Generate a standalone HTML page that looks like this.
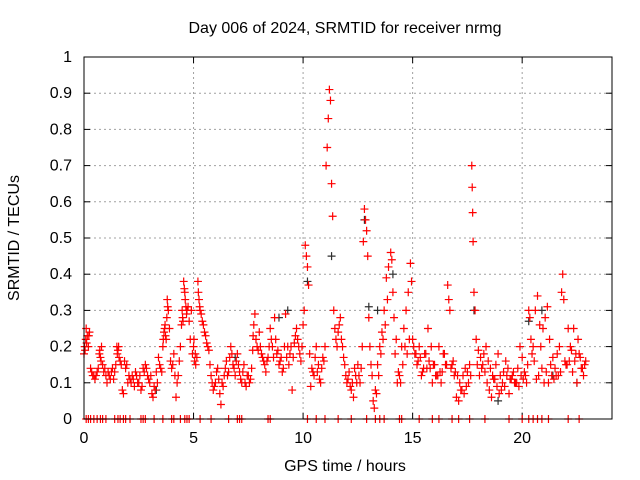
<!DOCTYPE html>
<html><head><meta charset="utf-8"><style>
body{margin:0;background:#fff}
svg{display:block;font-family:"Liberation Sans",sans-serif;font-size:16px}
</style></head><body>
<svg id="chart" width="640" height="480" viewBox="0 0 640 480">
<text x="345" y="33" text-anchor="middle">Day 006 of 2024, SRMTID for receiver nrmg</text>
<text x="345" y="471" text-anchor="middle">GPS time / hours</text>
<text transform="translate(19,238) rotate(-90)" text-anchor="middle">SRMTID / TECUs</text>
<g id="grid"></g>
<g id="axes"></g>
<g id="marks"></g>
<rect x="84" y="57" width="528" height="362" fill="none" stroke="#000"/>
</svg>
<script>
const xTicks=[0,5,10,15,20];
const yTicks=[0,0.1,0.2,0.3,0.4,0.5,0.6,0.7,0.8,0.9,1];
const yTickLabels=["0","0.1","0.2","0.3","0.4","0.5","0.6","0.7","0.8","0.9","1"];
const redTimes=[0.0,0.05,0.08,0.1,0.15,0.2,0.25,0.3,0.4,0.5,0.6,0.7,0.75,0.8,0.85,0.9,1.0,1.05,1.1,1.2,1.3,1.4,1.5,1.55,1.6,1.7,1.75,1.8,1.85,1.9,2.0,2.1,2.2,2.3,2.4,2.5,2.6,2.7,2.8,2.9,3.0,3.1,3.15,3.2,3.3,3.4,3.5,3.6,3.65,3.7,3.75,3.8,3.85,3.9,3.95,4.0,4.1,4.2,4.25,4.3,4.4,4.45,4.5,4.55,4.6,4.65,4.7,4.8,4.9,4.95,5.0,5.05,5.1,5.2,5.25,5.3,5.4,5.5,5.6,5.7,5.8,5.9,6.0,6.1,6.2,6.25,6.3,6.4,6.5,6.6,6.7,6.8,6.9,7.0,7.1,7.2,7.3,7.4,7.5,7.6,7.7,7.75,7.8,7.9,8.0,8.1,8.2,8.3,8.4,8.5,8.6,8.7,8.8,8.9,9.0,9.1,9.2,9.3,9.4,9.5,9.6,9.7,9.8,9.9,10.0,10.05,10.1,10.15,10.2,10.25,10.3,10.35,10.4,10.5,10.6,10.7,10.8,10.9,11.0,11.05,11.1,11.15,11.2,11.25,11.3,11.35,11.4,11.5,11.6,11.7,11.8,11.9,12.0,12.1,12.2,12.3,12.4,12.5,12.6,12.7,12.75,12.8,12.85,12.9,12.95,13.0,13.1,13.2,13.25,13.3,13.4,13.5,13.6,13.7,13.8,13.9,14.0,14.05,14.1,14.2,14.3,14.4,14.5,14.6,14.7,14.8,14.9,14.95,15.0,15.1,15.2,15.3,15.4,15.5,15.6,15.7,15.8,15.9,16.0,16.1,16.2,16.3,16.4,16.5,16.6,16.65,16.7,16.8,16.9,17.0,17.1,17.2,17.3,17.4,17.5,17.6,17.7,17.72,17.74,17.76,17.8,17.85,17.9,18.0,18.1,18.2,18.3,18.4,18.5,18.6,18.7,18.8,18.9,19.0,19.1,19.2,19.3,19.4,19.5,19.6,19.7,19.8,19.9,20.0,20.1,20.2,20.3,20.35,20.4,20.5,20.6,20.7,20.8,20.9,21.0,21.1,21.2,21.3,21.4,21.5,21.6,21.7,21.8,21.85,21.9,22.0,22.1,22.2,22.3,22.4,22.5,22.6,22.7,22.8,22.9];
const redValues=[0.18,0.19,0.22,0.25,0.23,0.2,0.24,0.14,0.12,0.11,0.13,0.18,0.17,0.2,0.15,0.13,0.12,0.1,0.13,0.11,0.14,0.13,0.2,0.19,0.17,0.15,0.08,0.07,0.16,0.14,0.1,0.11,0.12,0.09,0.12,0.1,0.08,0.14,0.15,0.12,0.1,0.07,0.06,0.09,0.13,0.17,0.14,0.2,0.24,0.26,0.22,0.33,0.3,0.25,0.16,0.14,0.18,0.06,0.1,0.12,0.2,0.26,0.28,0.38,0.35,0.31,0.3,0.27,0.3,0.18,0.2,0.16,0.15,0.38,0.33,0.3,0.27,0.24,0.21,0.19,0.12,0.08,0.1,0.14,0.07,0.04,0.1,0.12,0.16,0.13,0.2,0.15,0.12,0.18,0.13,0.1,0.15,0.09,0.12,0.11,0.19,0.26,0.29,0.2,0.24,0.18,0.16,0.13,0.17,0.25,0.2,0.28,0.18,0.15,0.17,0.14,0.29,0.2,0.18,0.08,0.21,0.25,0.2,0.16,0.26,0.3,0.48,0.45,0.42,0.37,0.18,0.09,0.14,0.12,0.2,0.15,0.1,0.17,0.2,0.7,0.75,0.83,0.91,0.88,0.65,0.56,0.3,0.22,0.24,0.28,0.2,0.15,0.1,0.13,0.08,0.06,0.12,0.15,0.1,0.2,0.49,0.58,0.55,0.52,0.45,0.28,0.15,0.05,0.03,0.08,0.15,0.2,0.24,0.3,0.39,0.42,0.46,0.44,0.35,0.18,0.1,0.12,0.2,0.25,0.3,0.35,0.43,0.38,0.22,0.18,0.15,0.2,0.12,0.14,0.18,0.25,0.14,0.1,0.15,0.12,0.2,0.1,0.18,0.15,0.37,0.33,0.3,0.15,0.12,0.06,0.05,0.08,0.12,0.14,0.13,0.15,0.7,0.64,0.57,0.49,0.35,0.3,0.22,0.19,0.17,0.15,0.13,0.1,0.08,0.06,0.11,0.15,0.18,0.12,0.1,0.09,0.12,0.07,0.11,0.13,0.1,0.14,0.2,0.17,0.13,0.1,0.3,0.28,0.22,0.2,0.3,0.34,0.26,0.14,0.1,0.13,0.1,0.15,0.17,0.14,0.18,0.2,0.35,0.4,0.33,0.15,0.25,0.2,0.13,0.16,0.1,0.18,0.14,0.12,0.16];
const redTimes2=[0.03,0.12,0.22,0.35,0.45,0.55,0.65,0.72,0.78,0.95,1.15,1.25,1.35,1.45,1.52,1.58,1.65,1.95,2.05,2.15,2.25,2.35,2.45,2.55,2.65,2.75,2.85,2.95,3.05,3.25,3.35,3.45,3.55,3.62,3.68,3.72,3.78,3.82,4.05,4.15,4.35,4.48,4.52,4.58,4.62,4.68,4.75,4.85,5.02,5.08,5.15,5.22,5.28,5.35,5.45,5.55,5.65,5.75,5.85,5.95,6.05,6.15,6.35,6.45,6.55,6.65,6.75,6.85,6.95,7.05,7.15,7.25,7.35,7.45,7.55,7.65,7.72,7.85,7.95,8.05,8.15,8.25,8.35,8.45,8.55,8.65,8.75,8.85,8.95,9.05,9.15,9.25,9.35,9.45,9.55,9.65,9.75,9.85,9.95,10.45,10.55,10.65,10.75,10.85,10.95,11.45,11.55,11.65,11.75,11.85,11.95,12.05,12.15,12.25,12.35,12.45,12.55,12.65,13.05,13.15,13.35,13.45,13.55,13.65,13.75,13.85,14.15,14.25,14.35,14.45,14.55,14.65,14.75,14.85,15.05,15.15,15.25,15.35,15.45,15.55,15.65,15.75,15.85,15.95,16.05,16.15,16.25,16.35,16.45,16.55,16.75,16.85,16.95,17.05,17.15,17.25,17.35,17.45,17.55,17.65,17.95,18.05,18.15,18.25,18.35,18.45,18.55,18.65,18.75,18.85,18.95,19.05,19.15,19.25,19.35,19.45,19.55,19.65,19.75,19.85,19.95,20.05,20.15,20.25,20.45,20.55,20.65,20.75,20.85,20.95,21.05,21.15,21.25,21.35,21.45,21.55,21.65,21.75,21.95,22.05,22.15,22.25,22.35,22.45,22.55,22.65,22.75,22.85];
const redValues2=[0.2,0.21,0.23,0.13,0.12,0.12,0.14,0.19,0.16,0.14,0.12,0.13,0.11,0.15,0.18,0.2,0.16,0.15,0.12,0.1,0.11,0.13,0.1,0.12,0.09,0.13,0.14,0.11,0.12,0.08,0.1,0.15,0.13,0.22,0.25,0.23,0.28,0.31,0.15,0.12,0.16,0.3,0.27,0.36,0.33,0.29,0.31,0.22,0.22,0.18,0.17,0.35,0.31,0.29,0.26,0.23,0.2,0.15,0.1,0.09,0.13,0.11,0.09,0.14,0.12,0.17,0.18,0.14,0.16,0.15,0.11,0.13,0.1,0.12,0.1,0.14,0.23,0.22,0.19,0.2,0.17,0.15,0.16,0.2,0.22,0.17,0.22,0.19,0.16,0.13,0.2,0.17,0.15,0.2,0.17,0.23,0.22,0.18,0.2,0.13,0.17,0.13,0.11,0.14,0.16,0.25,0.2,0.26,0.22,0.17,0.12,0.11,0.09,0.1,0.14,0.1,0.12,0.14,0.2,0.12,0.07,0.12,0.18,0.22,0.26,0.33,0.28,0.22,0.13,0.1,0.15,0.2,0.18,0.22,0.2,0.18,0.16,0.17,0.13,0.18,0.14,0.16,0.2,0.15,0.12,0.12,0.13,0.13,0.18,0.15,0.14,0.16,0.13,0.12,0.1,0.08,0.07,0.09,0.1,0.12,0.15,0.12,0.14,0.18,0.2,0.16,0.14,0.12,0.11,0.09,0.07,0.08,0.13,0.16,0.14,0.11,0.12,0.1,0.1,0.09,0.12,0.11,0.12,0.15,0.18,0.16,0.11,0.12,0.2,0.25,0.28,0.31,0.22,0.12,0.11,0.12,0.12,0.13,0.16,0.15,0.16,0.19,0.25,0.18,0.22,0.17,0.14,0.15,0.12,0.15,0.13,0.13,0.15];
const blackTimes=[3.3,6.9,8.9,9.3,10.2,11.3,12.8,13.0,13.4,14.1,17.8,18.9,20.3,20.9,21.4,22.5];
const blackValues=[0.08,0.17,0.28,0.3,0.38,0.45,0.55,0.31,0.3,0.4,0.3,0.05,0.27,0.3,0.12,0.1];
const zeroTimes=[0.1,0.2,0.3,0.45,0.6,0.75,0.85,1.0,1.4,1.55,1.65,1.8,1.9,2.1,2.6,2.7,2.8,3.2,3.6,4.0,4.1,4.4,4.6,4.7,4.8,5.3,5.8,6.6,7.0,7.1,7.2,8.4,8.5,10.2,10.6,11.0,11.6,12.2,12.9,13.3,13.5,13.7,14.4,14.5,15.3,15.9,16.2,16.8,17.1,17.6,18.3,19.4,20.0,20.3,20.5,20.7,20.9,21.2,22.1,22.6];
const X0=84,X1=612,XMAX=24.1,Y0=419,Y1=57;
const xs=v=>X0+v/XMAX*(X1-X0);
const ys=v=>Y0-v*(Y0-Y1);
const NS="http://www.w3.org/2000/svg";
const grid=document.getElementById('grid'),axes=document.getElementById('axes'),marks=document.getElementById('marks');
function mk(tag,attrs,parent){const e=document.createElementNS(NS,tag);for(const k in attrs)e.setAttribute(k,attrs[k]);parent.appendChild(e);return e;}
yTicks.forEach((t,i)=>{
  const y=ys(t);
  if(i>0&&i<yTicks.length-1){const g=mk('line',{x1:X0,x2:X1,y1:y,y2:y,stroke:'#a0a0a0','stroke-dasharray':'2,3'},grid);
  
  }
  const tl=mk('text',{x:X0-12,y:y+5,'text-anchor':'end'},axes);tl.textContent=yTickLabels[i];
  
  
  mk('line',{x1:X0,x2:X0+6,y1:y,y2:y,stroke:'#000'},axes);
  mk('line',{x1:X1,x2:X1-6,y1:y,y2:y,stroke:'#000'},axes);
});
xTicks.forEach(t=>{
  const x=xs(t);
  if(t>0){const g=mk('line',{x1:x,x2:x,y1:Y0,y2:Y1,stroke:'#a0a0a0','stroke-dasharray':'2,3'},grid);
  
  }
  const tl=mk('text',{x:x,y:Y0+24,'text-anchor':'middle'},axes);tl.textContent=t;
  
  
  mk('line',{x1:x,x2:x,y1:Y0,y2:Y0-6,stroke:'#000'},axes);
  mk('line',{x1:x,x2:x,y1:Y1,y2:Y1+6,stroke:'#000'},axes);
});
function plus(t,v,col,name){
  const x=xs(t),y=ys(v);
  const p=mk('path',{d:`M${x-4} ${y}h8M${x} ${y-4}v8`,stroke:col,'stroke-width':1.2,fill:'none'},marks);
  
  
}
blackTimes.forEach((t,i)=>plus(t,blackValues[i],'#303030','black-point'));
redTimes.forEach((t,i)=>plus(t,redValues[i],'#ff0000','red-point'));
redTimes2.forEach((t,i)=>plus(t,redValues2[i],'#ff0000','red-point'));
zeroTimes.forEach(t=>plus(t,0,'#ff0000','zero-point'));
</script>
</body></html>
